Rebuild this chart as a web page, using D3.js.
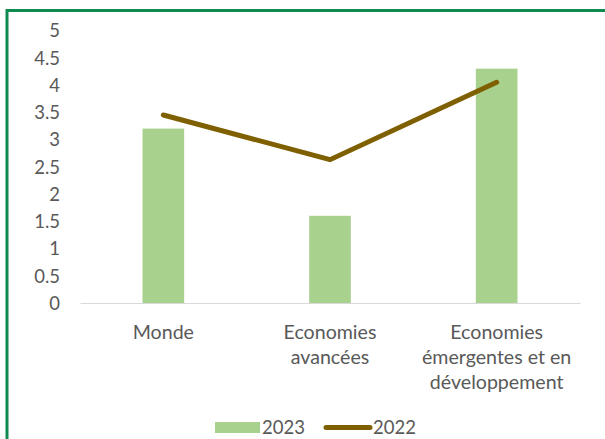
<!DOCTYPE html>
<html>
<head>
<meta charset="utf-8">
<script src="https://cdn.jsdelivr.net/npm/d3@7"></script>
<style>
  html, body { margin: 0; padding: 0; background: #fff; }
  svg { display: block; }
  text { font-family: Lato, "Noto Sans", sans-serif; fill: #595959; }
</style>
</head>
<body>
<svg id="chart" width="605" height="439"></svg>
<script>
// Growth by economy group: bars for 2023, line for 2022
const categories = [
  ["Monde"],
  ["Economies", "avancées"],
  ["Economies", "émergentes et en", "développement"]
];
const values2023 = [3.2, 1.6, 4.3];
const values2022 = [3.45, 2.63, 4.05];
const yTicks = [0, 0.5, 1, 1.5, 2, 2.5, 3, 3.5, 4, 4.5, 5];
const seriesNames = ["2023", "2022"];

const W = 605, H = 439;
const svg = d3.select("#chart");
const fontSize = 18.5;
const catFontSize = 19.6;

// outer frame (green border)
svg.append("rect")
  .attr("x", 7).attr("y", 10.5)
  .attr("width", W + 20).attr("height", H + 20)
  .attr("fill", "none")
  .attr("stroke", "#0E8A50")
  .attr("stroke-width", 3);

const plot = { left: 80, right: 580, top: 30.5, bottom: 303 };

const keys = categories.map((c, i) => i);
const x = d3.scaleBand()
  .domain(keys)
  .range([plot.left, plot.right])
  .paddingInner(0.75)
  .paddingOuter(0.375);

const y = d3.scaleLinear().domain([0, 5]).range([plot.bottom, plot.top]);

// y axis labels (no axis line)
const yAxis = d3.axisLeft(y).tickValues(yTicks).tickSize(0).tickPadding(0)
  .tickFormat(d => String(d));
const gy = svg.append("g").attr("transform", `translate(${60},0)`).call(yAxis);
gy.select(".domain").remove();
gy.selectAll("text")
  .attr("font-size", fontSize)
  .attr("font-family", "Lato, 'Noto Sans', sans-serif")
  .attr("fill", "#595959")
  .attr("dy", "0.35em");

// bars 2023
svg.append("g").selectAll("rect")
  .data(values2023)
  .join("rect")
  .attr("x", (d, i) => x(i))
  .attr("y", d => y(d))
  .attr("width", x.bandwidth())
  .attr("height", d => y(0) - y(d))
  .attr("fill", "#A9D18E");

// category axis line
const xAxis = d3.axisBottom(x).tickSize(0).tickFormat("");
const gx = svg.append("g").attr("transform", `translate(0,${plot.bottom})`).call(xAxis);
gx.select(".domain").attr("stroke", "#D9D9D9").attr("stroke-width", 1.2);

// category labels, multi-line
const labels = svg.append("g").selectAll("text")
  .data(categories)
  .join("text")
  .attr("text-anchor", "middle")
  .attr("font-size", catFontSize)
  .attr("x", (d, i) => x(i) + x.bandwidth() / 2)
  .attr("y", 338.5);
labels.each(function(lines, i) {
  const t = d3.select(this);
  lines.forEach((ln, j) => {
    t.append("tspan")
      .attr("x", x(i) + x.bandwidth() / 2)
      .attr("dy", j === 0 ? 0 : 25)
      .text(ln);
  });
});

// line 2022
const line = d3.line()
  .x((d, i) => x(i) + x.bandwidth() / 2)
  .y(d => y(d));
svg.append("path")
  .datum(values2022)
  .attr("d", line)
  .attr("fill", "none")
  .attr("stroke", "#7F6000")
  .attr("stroke-width", 5)
  .attr("stroke-linecap", "round")
  .attr("stroke-linejoin", "miter");

// legend
const lg = svg.append("g");
lg.append("rect")
  .attr("x", 215).attr("y", 422)
  .attr("width", 45).attr("height", 11)
  .attr("fill", "#A9D18E");
lg.append("text")
  .attr("x", 262).attr("y", 434)
  .attr("font-size", fontSize)
  .text(seriesNames[0]);
lg.append("line")
  .attr("x1", 326).attr("x2", 370)
  .attr("y1", 427.5).attr("y2", 427.5)
  .attr("stroke", "#7F6000")
  .attr("stroke-width", 5)
  .attr("stroke-linecap", "round");
lg.append("text")
  .attr("x", 373).attr("y", 434)
  .attr("font-size", fontSize)
  .text(seriesNames[1]);
</script>
</body>
</html>
